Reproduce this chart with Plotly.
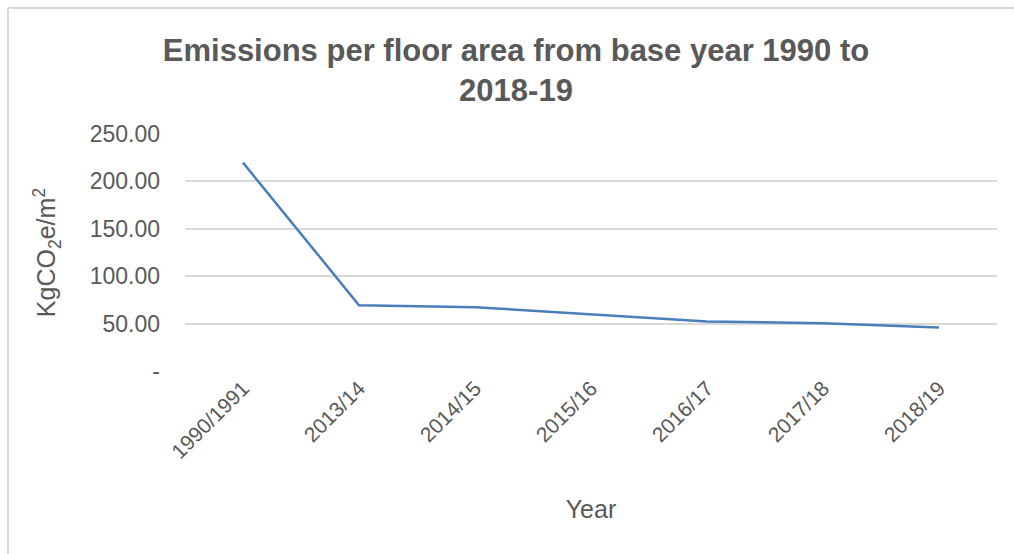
import plotly.graph_objects as go

categories = ["1990/1991", "2013/14", "2014/15", "2015/16", "2016/17", "2017/18", "2018/19"]
emissions = [219.8, 69.4, 67.3, 59.6, 52.2, 50.5, 45.9]
y_ticks = [0, 50, 100, 150, 200, 250]
y_tick_labels = ["-", "50.00", "100.00", "150.00", "200.00", "250.00"]

W, H = 1014, 554
L, R, T, B = 185, 17, 134, 183
pw = W - L - R
ph = H - T - B

grey = "#595959"
font = "Liberation Sans, Arial, sans-serif"

fig = go.Figure()
fig.add_trace(go.Scatter(
    x=categories, y=emissions, mode="lines",
    line=dict(color="#4a7ebb", width=2.5),
    showlegend=False, hoverinfo="x+y",
))

fig.update_layout(
    width=W, height=H,
    margin=dict(l=L, r=R, t=T, b=B),
    paper_bgcolor="white", plot_bgcolor="white",
    font=dict(family=font, color=grey),
    title=dict(
        text="<b>Emissions per floor area from base year 1990 to<br>2018-19</b>",
        x=516 / W, xanchor="center", y=1 - 61 / H, yanchor="middle",
        font=dict(size=31, color=grey, family=font),
    ),
    xaxis=dict(
        type="category", range=[-0.5, 6.5],
        showgrid=False, showline=False, zeroline=False, ticks="",
        tickangle=-45, tickfont=dict(size=21, color=grey),
        title=dict(text="Year", font=dict(size=25, color=grey), standoff=38),
    ),
    yaxis=dict(
        range=[0, 250], tickvals=y_ticks, ticktext=y_tick_labels,
        showgrid=True, gridcolor="#d9d9d9", gridwidth=1.6,
        zeroline=False, showline=False, ticks="",
        tickfont=dict(size=23, color=grey), ticklabelstandoff=24,
        title=dict(text="KgCO<sub>2</sub>e/m<sup>2</sup>", font=dict(size=25, color=grey), standoff=26),
    ),
    shapes=[
        dict(type="line", xref="paper", yref="paper",
             x0=(8 - L) / pw, x1=(8 - L) / pw, y0=(H - B - 8) / ph, y1=(H - B - 560) / ph,
             line=dict(color="#d9d9d9", width=2)),
        dict(type="line", xref="paper", yref="paper",
             x0=(8 - L) / pw, x1=(1020 - L) / pw, y0=(H - B - 8) / ph, y1=(H - B - 8) / ph,
             line=dict(color="#d9d9d9", width=2)),
    ],
)

fig.write_html("out.html")
